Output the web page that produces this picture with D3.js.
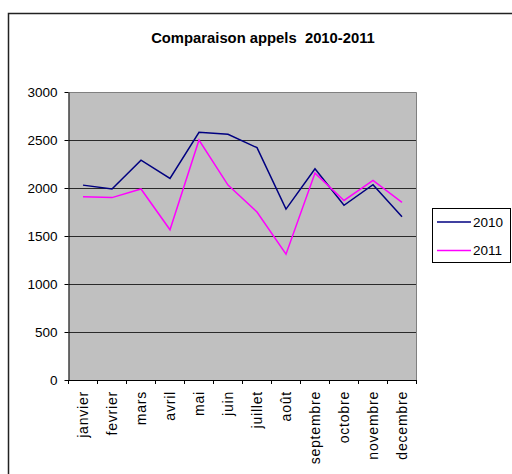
<!DOCTYPE html>
<html><head><meta charset="utf-8">
<script src="https://cdn.jsdelivr.net/npm/d3@7"></script>
<style>body{margin:0;background:#fff;} text{font-family:Arial,"Liberation Sans",sans-serif;}</style>
</head><body>
<svg id="c" width="512" height="474"></svg>
<script>
const months = ["janvier","fevrier","mars","avril","mai","juin","juillet","août","septembre","octobre","novembre","decembre"];
const v2010 = [2030,1990,2290,2100,2580,2560,2420,1780,2200,1820,2035,1700];
const v2011 = [1910,1900,1990,1565,2500,2030,1750,1310,2155,1870,2080,1850];
const yTicks = [0,500,1000,1500,2000,2500,3000];
const seriesNames = ["2010","2011"];
const colors = ["#000080","#FF00FF"];

const svg = d3.select("#c");
// outer frame
svg.append("rect").attr("x",8.5).attr("y",13.5).attr("width",520).attr("height",480)
  .attr("fill","#fff").attr("stroke","#222").attr("stroke-width",1.5);

const L=68.5, R=416.5, T=92, B=380;
const x = d3.scaleBand().domain(months).range([L,R]);
const y = d3.scaleLinear().domain([0,3000]).range([B,T]);

svg.append("rect").attr("x",L).attr("y",T).attr("width",R-L).attr("height",B-T).attr("fill","#C0C0C0");

// gridlines
svg.append("g").selectAll("line").data(yTicks.filter(d=>d>0&&d<3000)).join("line")
  .attr("x1",L).attr("x2",R).attr("y1",d=>Math.round(y(d))+0.5).attr("y2",d=>Math.round(y(d))+0.5)
  .attr("stroke","#2a2a2a").attr("stroke-width",1);
// plot border top/right
svg.append("path").attr("d",`M${L},${T+0.5}H${R}V${B}`).attr("fill","none").attr("stroke","#808080").attr("stroke-width",1);

// title
svg.append("text").attr("x",263).attr("y",43).attr("text-anchor","middle")
  .attr("font-weight","bold").attr("font-size","14.8px").style("white-space","pre")
  .text("Comparaison appels  2010-2011");

// y axis
const ya = svg.append("g").attr("transform",`translate(${L},0)`)
  .call(d3.axisLeft(y).tickValues(yTicks).tickFormat(d3.format("d")).tickSize(4).tickPadding(7).tickSizeOuter(0));
ya.select(".domain").attr("stroke","#000");
ya.selectAll(".tick line").attr("stroke","#000");
ya.selectAll("text").attr("font-size","13.5px").attr("font-family","Arial,'Liberation Sans',sans-serif").attr("fill","#000");

// x axis
const xa = svg.append("g").attr("transform",`translate(0,${B})`)
  .call(d3.axisBottom(x).tickSize(0).tickSizeOuter(0));
xa.select(".domain").attr("stroke","#000");
xa.selectAll(".tick text").attr("font-size","14px").attr("letter-spacing","0.8px")
  .attr("font-family","Arial,'Liberation Sans',sans-serif").attr("fill","#000")
  .attr("transform","rotate(-90)").attr("text-anchor","end")
  .attr("x",-11).attr("y",0).attr("dy","0.35em");
// boundary ticks
const bounds = months.map(m=>x(m)).concat([x(months[months.length-1])+x.bandwidth()]);
svg.append("g").selectAll("line").data(bounds).join("line")
  .attr("x1",d=>d).attr("x2",d=>d).attr("y1",B).attr("y2",B+4).attr("stroke","#000");

// lines
const line = d3.line().x((d,i)=>x(months[i])+x.bandwidth()/2).y(d=>y(d));
[v2010,v2011].forEach((vals,k)=>{
  svg.append("path").datum(vals).attr("d",line).attr("fill","none")
    .attr("stroke",colors[k]).attr("stroke-width",1.5);
});

// legend
const lg = svg.append("g");
lg.append("rect").attr("x",432.5).attr("y",208.5).attr("width",78).attr("height",54)
  .attr("fill","#fff").attr("stroke","#000");
seriesNames.forEach((s,k)=>{
  const yy = 222 + k*28.5;
  lg.append("line").attr("x1",437).attr("x2",471).attr("y1",yy).attr("y2",yy).attr("stroke",colors[k]).attr("stroke-width",1.5);
  lg.append("text").attr("x",473).attr("y",yy).attr("dy","0.36em").attr("font-size","13.5px").text(s);
});
</script>
</body></html>
